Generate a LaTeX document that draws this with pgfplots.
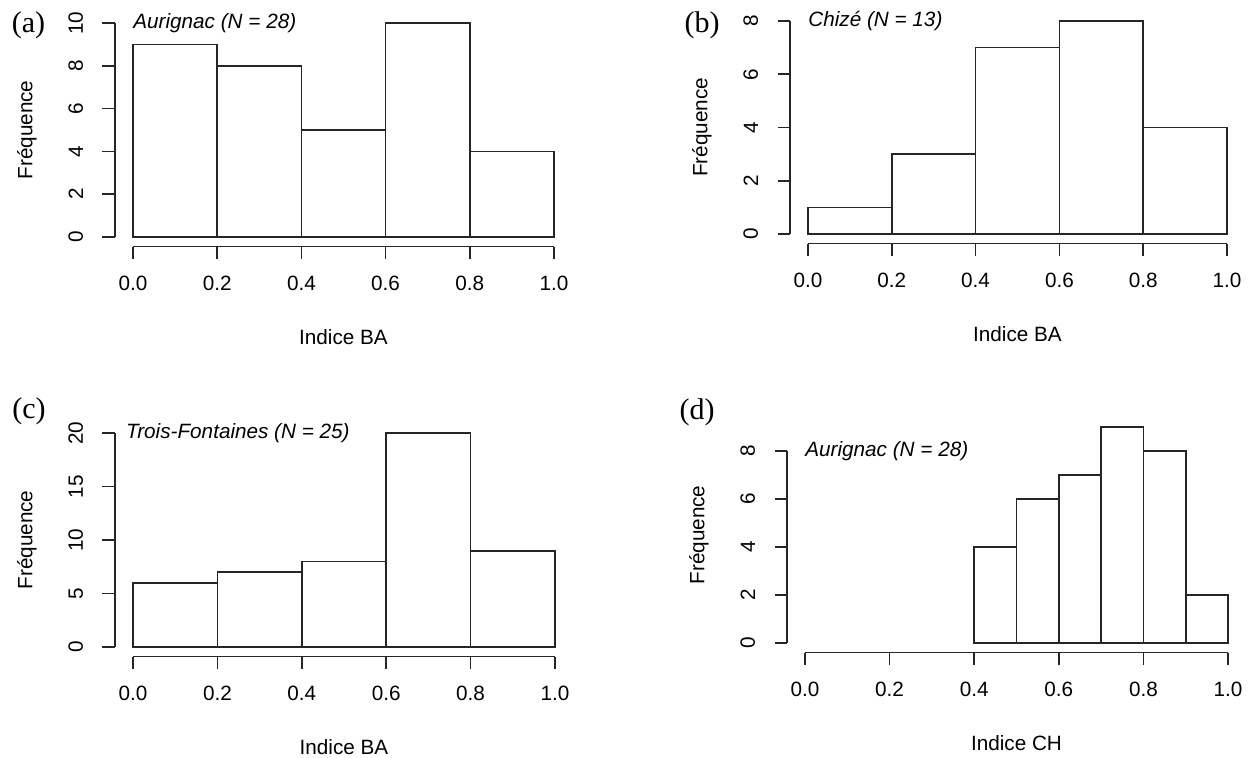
\documentclass[border=0pt]{standalone}
\usepackage{fontspec}
\setmainfont{Liberation Sans}
\newfontfamily\timesfont{Liberation Serif}
\usepackage{pgfplots}
\pgfplotsset{compat=1.18}

% R-style histogram panels, 1px = 0.5pt
\pgfplotsset{
  rhist/.style={
    scale only axis,
    enlargelimits=false,
    clip=false,
    xmin=0, xmax=1, ymin=0,
    axis x line*=bottom, axis y line*=left,
    axis x line shift=4.75pt, axis y line shift=9pt,
    axis line style={-, line width=0.8pt, black!85},
    tick style={line width=0.8pt, black!85},
    tick align=outside,
    major tick length=6.25pt,
    xtick={0,0.2,0.4,0.6,0.8,1},
    xticklabels={0.0,0.2,0.4,0.6,0.8,1.0},
    font=\fontsize{10.35}{12}\selectfont,
    yticklabel style={rotate=90, anchor=south, inner sep=0pt},
    xticklabel style={anchor=north, inner sep=0pt},
    xticklabel shift=8.5pt,
    yticklabel shift=9.5pt,
    every axis y label/.style={at={(rel axis cs:0,0.5)}, anchor=center, xshift=-53pt, rotate=90},
    every axis x label/.style={at={(rel axis cs:0.5,0)}, anchor=center, yshift=-50pt},
    ylabel={Fréquence},
  },
  bars/.style={ybar interval, fill=white, draw=black!85, line width=0.8pt},
}
\tikzset{
  note/.style={anchor=west, inner sep=0pt, font=\fontsize{10.35}{12}\selectfont\itshape},
  plab/.style={font=\timesfont\fontsize{15}{18}\selectfont},
}

\begin{document}
\begin{tikzpicture}
\useasboundingbox (0,0) rectangle (626pt,378.5pt);

% (a)
\begin{axis}[rhist, at={(66.5pt,260pt)}, anchor=south west,
  width=210.5pt, height=107pt, ymax=10,
  ytick={0,2,4,6,8,10}, yticklabels={0,2,4,6,8,10},
  xlabel={Indice BA}]
\addplot[bars] coordinates {(0,9) (0.2,8) (0.4,5) (0.6,10) (0.8,4) (1.0,4)};
\node[note] at (axis cs:0,10) {Aurignac (N = 28)};
\end{axis}

% (b)
\begin{axis}[rhist, at={(404pt,261.5pt)}, anchor=south west,
  width=209.5pt, height=106.5pt, ymax=8,
  ytick={0,2,4,6,8}, yticklabels={0,2,4,6,8},
  xlabel={Indice BA}]
\addplot[bars] coordinates {(0,1) (0.2,3) (0.4,7) (0.6,8) (0.8,4) (1.0,4)};
\node[note] at (axis cs:0,8) {Chizé (N = 13)};
\end{axis}

% (c)
\begin{axis}[rhist, at={(66.5pt,55pt)}, anchor=south west,
  width=211pt, height=107pt, ymax=20,
  ytick={0,5,10,15,20}, yticklabels={0,5,10,15,20},
  xlabel={Indice BA}]
\addplot[bars] coordinates {(0,6) (0.2,7) (0.4,8) (0.6,20) (0.8,9) (1.0,9)};
\node[note] at (axis cs:-0.017,20) {Trois-Fontaines (N = 25)};
\end{axis}

% (d)
\begin{axis}[rhist, at={(402.5pt,57pt)}, anchor=south west,
  width=211.5pt, height=96pt, ymax=8,
  ytick={0,2,4,6,8}, yticklabels={0,2,4,6,8},
  every axis y label/.style={at={(rel axis cs:0,0.5625)}, anchor=center, xshift=-53pt, rotate=90},
  xlabel={Indice CH}]
\addplot[bars] coordinates {(0.4,4) (0.5,6) (0.6,7) (0.7,9) (0.8,8) (0.9,2) (1.0,2)};
\node[note] at (axis cs:0,8) {Aurignac (N = 28)};
\end{axis}

\node[plab] at (14.25pt,366pt) {(a)};
\node[plab] at (351pt,366pt) {(b)};
\node[plab] at (14.5pt,173pt) {(c)};
\node[plab] at (348.5pt,172.5pt) {(d)};
\end{tikzpicture}
\end{document}
